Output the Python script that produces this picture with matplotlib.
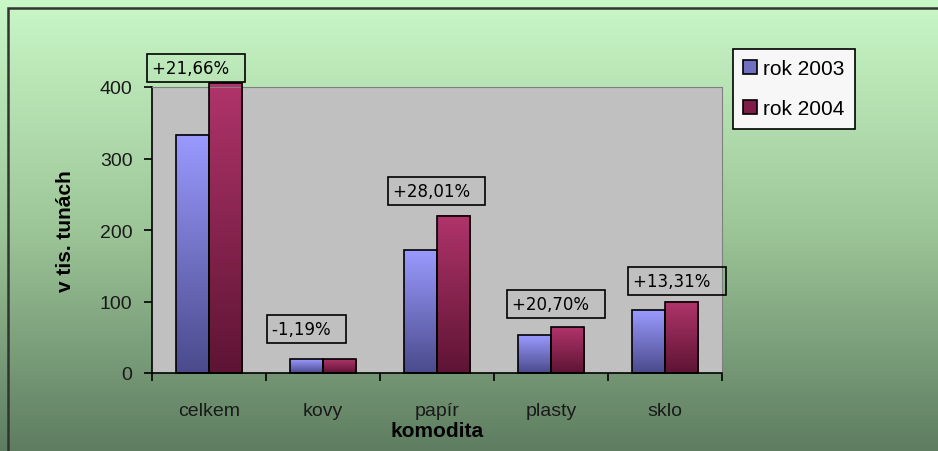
import numpy as np
import matplotlib
matplotlib.use("Agg")
import matplotlib.pyplot as plt
from matplotlib.colors import LinearSegmentedColormap
from matplotlib.patches import Rectangle

# data (thousands of tonnes)
komodity = ["celkem", "kovy", "papír", "plasty", "sklo"]
rok_2003 = [333, 19, 172, 53, 88]
rok_2004 = [405, 19, 220, 64, 100]
zmeny = ["+21,66%", "-1,19%", "+28,01%", "+20,70%", "+13,31%"]
serie = ["rok 2003", "rok 2004"]
y_ticks = [0, 100, 200, 300, 400]

# hand placed label boxes (left edge in category units, centre in data units)
label_x = [-0.50, 0.55, 1.61, 2.66, 3.72]
label_y = [427, 62, 254, 96, 129]

plt.rcParams["font.family"] = ["Liberation Sans", "DejaVu Sans"]

fig = plt.figure(figsize=(9.38, 4.52), dpi=100)

# green gradient background of the chart area
bg = fig.add_axes([0, 0, 1, 1], zorder=-10)
bg_cmap = LinearSegmentedColormap.from_list(
    "bg", [(0.37, 0.49, 0.38), (0.62, 0.78, 0.60), (0.79, 0.97, 0.78)])
grad = np.linspace(0, 1, 256).reshape(-1, 1)
bg.imshow(grad, cmap=bg_cmap, aspect="auto", origin="lower", extent=[0, 1, 0, 1])
bg.add_patch(Rectangle((8 / 938, -0.1), 1.1, 1.1 - 9 / 452,
                       transform=bg.transAxes, fill=False, ec="#333333", lw=1.8))
bg.set_axis_off()

ax = fig.add_axes([152 / 938, 78 / 452, 570 / 938, 286 / 452])
ax.set_facecolor("#c0c0c0")

x = np.arange(len(komodity))
w = 0.29
b1 = ax.bar(x - w, rok_2003, w, align="edge", fc="none", ec="black", lw=1.2,
            label=serie[0], zorder=3, clip_on=False)
b2 = ax.bar(x, rok_2004, w, align="edge", fc="none", ec="black", lw=1.2,
            label=serie[1], zorder=3, clip_on=False)

cm_2003 = LinearSegmentedColormap.from_list("c1", ["#4a4a8c", "#9a9aff"])
cm_2004 = LinearSegmentedColormap.from_list("c2", ["#5e1434", "#b0346a"])
for bars, cm in ((b1, cm_2003), (b2, cm_2004)):
    for bar in bars:
        x0, y0 = bar.get_x(), bar.get_y()
        im = ax.imshow(grad, cmap=cm, aspect="auto", origin="lower",
                       extent=[x0, x0 + bar.get_width(), y0, y0 + bar.get_height()],
                       zorder=2)
        im.set_clip_path(bar)
        im.set_clip_on(False)

ax.set_xlim(-0.5, len(komodity) - 0.5)
ax.set_ylim(0, 400)
ax.set_yticks(y_ticks)
ax.set_xticks(x)
ax.set_xticklabels(komodity)
ax.set_xticks(np.arange(len(komodity) + 1) - 0.5, minor=True)
ax.tick_params(axis="x", which="major", length=0, pad=21, labelsize=14,
               labelcolor="#1a1a1a")
ax.tick_params(axis="x", which="minor", length=6, width=1.2, direction="out")
ax.tick_params(axis="y", length=6, width=1.2, direction="out", pad=8,
               labelsize=14, labelcolor="#1a1a1a")
ax.spines["left"].set_linewidth(1.2)
ax.spines["bottom"].set_linewidth(1.2)
ax.spines["top"].set_color("#808080")
ax.spines["right"].set_color("#808080")
ax.spines["top"].set_linewidth(0.8)
ax.spines["right"].set_linewidth(0.8)

ax.set_xlabel("komodita", fontsize=15, fontweight="bold", labelpad=1)
ax.set_ylabel("v tis. tunách", fontsize=15, fontweight="bold", labelpad=18)

for lx, ly, s in zip(label_x, label_y, zmeny):
    ax.text(lx, ly, s + "  ", ha="left", va="center", fontsize=12,
            family="DejaVu Sans", zorder=5, clip_on=False,
            bbox=dict(boxstyle="square,pad=0.3", fc="none", ec="black", lw=1.2))

leg = ax.legend(loc="upper left", bbox_to_anchor=(733 / 938, 402 / 452),
                bbox_transform=fig.transFigure, borderaxespad=0, fontsize=15,
                frameon=True, fancybox=False, edgecolor="black",
                facecolor="#f7f7f7", framealpha=1, handlelength=0.65,
                handleheight=0.65, handletextpad=0.3, labelspacing=1.0,
                borderpad=0.5)
leg.get_frame().set_linewidth(1.2)
leg.legend_handles[0].set_facecolor("#7070c0")
leg.legend_handles[1].set_facecolor("#801c48")

fig.savefig("out.png", dpi=100)
